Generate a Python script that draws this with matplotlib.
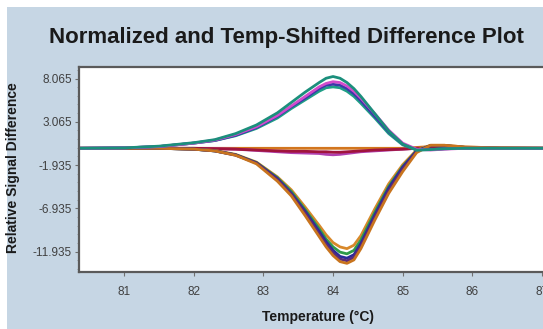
import matplotlib
matplotlib.use("Agg")
import matplotlib.pyplot as plt
from matplotlib.patches import Rectangle
from matplotlib.ticker import AutoMinorLocator

# temperature grid (deg C) shared by all curves
temps = [80.35, 81.0, 81.5, 82.0, 82.3, 82.6, 82.9, 83.2, 83.4, 83.6, 83.8, 83.9, 84.0,
         84.1, 84.2, 84.3, 84.4, 84.6, 84.8, 85.0, 85.2, 85.4, 85.6, 85.9, 86.4, 87.2]

# positive group
teal_hi = [0, 0.05, 0.25, 0.65, 1.0, 1.7, 2.7, 4.1, 5.3, 6.5, 7.6, 8.1, 8.3,
           8.1, 7.6, 6.9, 6.0, 4.0, 2.0, 0.5, -0.2, -0.15, -0.05, 0, 0, 0]
magenta = [0, 0.05, 0.2, 0.6, 0.95, 1.6, 2.5, 3.8, 4.9, 6.0, 7.1, 7.5, 7.7,
           7.6, 7.2, 6.6, 5.8, 4.0, 2.1, 0.6, -0.1, -0.2, -0.1, 0, 0, 0]
blue_pos = [0, 0.05, 0.2, 0.6, 0.9, 1.5, 2.4, 3.7, 4.8, 5.8, 6.9, 7.3, 7.4,
            7.3, 6.9, 6.3, 5.5, 3.7, 1.9, 0.5, -0.15, -0.15, -0.05, 0, 0, 0]
teal_lo = [0, 0.05, 0.2, 0.6, 0.9, 1.45, 2.3, 3.5, 4.6, 5.6, 6.6, 7.0, 7.1,
           7.0, 6.6, 6.0, 5.2, 3.5, 1.7, 0.4, -0.2, -0.15, -0.05, 0, 0, 0]

# negative group
orange_lo = [0, 0, 0, -0.1, -0.3, -0.8, -1.8, -3.8, -5.5, -7.8, -10.2, -11.4, -12.4,
             -13.1, -13.3, -12.9, -11.6, -8.3, -5.2, -2.7, -0.5, 0.35, 0.35, 0.15, 0.05, 0]
purple = [0, 0, 0, -0.1, -0.3, -0.8, -1.7, -3.6, -5.3, -7.5, -9.9, -11.1, -12.1,
          -12.8, -13.0, -12.6, -11.3, -8.0, -4.9, -2.4, -0.4, 0.3, 0.3, 0.1, 0, 0]
blue_neg = [0, 0, 0, -0.1, -0.3, -0.75, -1.7, -3.5, -5.2, -7.3, -9.6, -10.8, -11.8,
            -12.5, -12.7, -12.3, -11.0, -7.7, -4.6, -2.2, -0.3, 0.3, 0.3, 0.1, 0, 0]
green_neg = [0, 0, 0, -0.1, -0.3, -0.75, -1.65, -3.4, -5.0, -7.1, -9.3, -10.5, -11.4,
             -12.0, -12.2, -11.8, -10.6, -7.4, -4.4, -2.1, -0.3, 0.3, 0.3, 0.1, 0, 0]
orange_hi = [0, 0, 0, -0.1, -0.25, -0.7, -1.6, -3.3, -4.8, -6.8, -8.9, -10.0, -10.9,
             -11.4, -11.6, -11.2, -10.1, -7.0, -4.1, -1.9, -0.2, 0.35, 0.35, 0.15, 0.05, 0]

# near-flat curves
crimson = [0, 0, 0, 0, -0.05, -0.1, -0.2, -0.3, -0.35, -0.35, -0.4, -0.4, -0.45,
           -0.45, -0.4, -0.35, -0.3, -0.2, -0.15, -0.1, 0, 0, 0, 0, 0, 0]
violet = [0, 0, 0, 0, -0.05, -0.1, -0.25, -0.4, -0.5, -0.55, -0.6, -0.7, -0.75,
          -0.7, -0.6, -0.5, -0.4, -0.3, -0.2, -0.1, 0, 0, 0, 0, 0, 0]
orange_flat = [0, 0, 0, 0, 0, 0, 0, 0, 0, 0, 0, 0, 0,
               0, 0, 0, 0, 0, 0, 0, 0.1, 0.2, 0.2, 0.1, 0.05, 0]

yticks = [8.065, 3.065, -1.935, -6.935, -11.935]
xticks = [81, 82, 83, 84, 85, 86, 87]

W, H = 543, 329
fig = plt.figure(figsize=(W / 100, H / 100), dpi=100, facecolor="white")
# blue-grey panel with a thin white margin on left/top
fig.patches.append(Rectangle((7 / W, 0), 1, 1 - 7 / H, transform=fig.transFigure,
                             facecolor="#c6d6e4", edgecolor="none", zorder=-5))

left, right, top, bottom = 79, 553, 67, 272
ax = fig.add_axes([left / W, 1 - bottom / H, (right - left) / W, (bottom - top) / H])
ax.set_facecolor("white")

lw = 2.0
ax.plot(temps, orange_flat, color="#d2761e", lw=lw)
ax.plot(temps, violet, color="#b040b0", lw=lw)
ax.plot(temps, crimson, color="#a0143c", lw=lw)

ax.plot(temps, orange_hi, color="#d8882a", lw=lw)
ax.plot(temps, green_neg, color="#2f9a4a", lw=lw)
ax.plot(temps, blue_neg, color="#2a2a9a", lw=lw)
ax.plot(temps, purple, color="#5a2a7a", lw=lw)
ax.plot(temps, orange_lo, color="#c8741e", lw=lw)

ax.plot(temps, teal_lo, color="#1f9e86", lw=lw)
ax.plot(temps, blue_pos, color="#3a3aa8", lw=lw)
ax.plot(temps, magenta, color="#d24ccc", lw=lw)
ax.plot(temps, teal_hi, color="#1b8f7c", lw=lw)

ax.set_xlim(80.35, 87.16)
ax.set_ylim(-14.3, 9.4)
ax.set_xticks(xticks)
ax.set_yticks(yticks)
ax.set_yticklabels(["%.3f" % v for v in yticks])
ax.yaxis.set_minor_locator(AutoMinorLocator(5))

sans = ["Liberation Sans", "DejaVu Sans"]
for lab in ax.get_xticklabels() + ax.get_yticklabels():
    lab.set_family(sans)
    lab.set_fontsize(8.5)
    lab.set_color("#404040")
ax.tick_params(which="major", length=3, color="#707070", pad=2)
ax.tick_params(axis="x", pad=7)
ax.tick_params(axis="y", which="minor", length=1.5, color="#909090")
for s in ax.spines.values():
    s.set_color("#5a5a5a")
    s.set_linewidth(1.6)

fig.text(0.528, 1 - 37 / H, "Normalized and Temp-Shifted Difference Plot",
         ha="center", va="center", fontsize=16, fontweight="bold",
         family=sans, color="#1a1a1a")
fig.text(318 / W, 1 - 317 / H, "Temperature (\u00b0C)", ha="center", va="center",
         fontsize=10, fontweight="bold", family=sans, color="#1a1a1a")
fig.text(13 / W, 1 - 168 / H, "Relative Signal Difference", ha="center", va="center",
         rotation=90, fontsize=10, fontweight="bold", family=sans, color="#1a1a1a")

fig.savefig("out.png", dpi=100, facecolor=fig.get_facecolor())
